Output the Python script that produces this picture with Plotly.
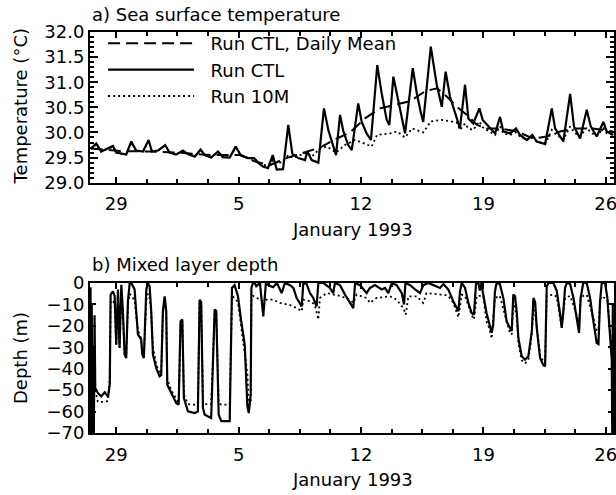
import pandas as pd
import plotly.graph_objects as go
from plotly.subplots import make_subplots

# time = days since 1993-01-01 00:00
sst_ctl_day = [-4.45, -4.14, -3.86, -3.19, -3.00, -2.43, -2.14, -1.86, -1.47, -1.15, -0.96, -0.61, -0.20,
               0.05, 0.43, 0.82, 1.10, 1.49, 1.83, 2.06, 2.43, 2.82, 3.10, 3.49, 3.83, 4.12, 4.53, 4.88,
               5.11, 5.39, 5.68, 5.95, 6.18, 6.54, 6.84, 7.07, 7.41, 7.80, 7.93, 8.18, 8.56, 8.88, 9.13,
               9.41, 9.57, 9.80, 9.99, 10.27, 10.47, 10.84, 11.04, 11.32, 11.57, 11.93, 12.18, 12.47,
               12.62, 12.85, 13.10, 13.33, 13.52, 13.96, 14.19, 14.43, 14.56, 14.99, 15.33, 15.62,
               15.84, 16.09, 16.47, 16.66, 16.95, 17.14, 17.42, 17.77, 17.96, 18.38, 18.67, 18.95,
               19.14, 19.52, 19.87, 20.09, 20.48, 20.80, 21.05, 21.53, 21.91, 22.10, 22.57, 22.96,
               23.18, 23.53, 23.91, 24.14, 24.48, 24.86, 25.05, 25.43]
sst_ctl = [29.68, 29.78, 29.62, 29.73, 29.60, 29.56, 29.82, 29.64, 29.62, 29.85, 29.62, 29.64, 29.75,
           29.60, 29.56, 29.64, 29.57, 29.52, 29.66, 29.55, 29.50, 29.62, 29.51, 29.50, 29.72, 29.55,
           29.49, 29.49, 29.40, 29.32, 29.29, 29.55, 29.26, 29.27, 30.15, 29.58, 29.49, 29.45, 29.62,
           29.45, 29.40, 30.48, 30.05, 29.72, 29.55, 30.35, 30.02, 29.75, 29.65, 30.58, 30.21, 29.98,
           29.85, 31.34, 30.78, 30.25, 30.15, 31.11, 30.68, 30.25, 29.98, 31.28, 30.78, 30.38, 30.21,
           31.71, 30.95, 30.51, 31.21, 30.71, 30.31, 30.08, 30.95, 30.28, 30.18, 30.48, 30.25, 30.08,
           29.98, 30.31, 30.02, 29.98, 30.08, 29.95, 29.85, 29.95, 29.82, 29.77, 30.48, 30.08, 29.82,
           30.77, 30.12, 29.88, 30.45, 30.12, 29.92, 30.21, 30.02, 29.95]

sst_mean_day = [-4.45, -2.79, -1.07, 0.64, 2.36, 4.08, 4.94, 5.79, 6.65, 7.51, 8.65, 9.62, 10.37, 11.23,
                12.09, 12.94, 13.80, 14.66, 15.35, 15.92, 16.49, 17.06, 17.63, 18.21, 18.95, 19.92,
                20.84, 21.64, 22.38, 23.33, 24.26, 25.41]
sst_mean = [29.68, 29.63, 29.62, 29.60, 29.55, 29.55, 29.42, 29.35, 29.48, 29.57, 29.70, 29.88, 30.00,
            30.28, 30.48, 30.55, 30.62, 30.82, 30.88, 30.71, 30.51, 30.35, 30.15, 30.08, 30.08, 30.02,
            29.88, 29.92, 30.02, 30.08, 30.08, 30.02]

sst_10m_day = [-4.45, -4.14, -3.86, -3.19, -3.00, -2.43, -2.14, -1.86, -1.47, -1.15, -0.96, -0.61, -0.20,
               0.05, 0.43, 0.82, 1.10, 1.49, 1.83, 2.06, 2.43, 2.82, 3.10, 3.49, 3.83, 4.12, 4.53, 4.88,
               5.11, 5.39, 5.68, 5.95, 6.18, 6.54, 6.84, 7.13, 7.51, 7.93, 8.18, 8.65, 9.04, 9.57, 10.08,
               10.66, 11.06, 11.61, 11.91, 12.66, 13.06, 13.52, 13.92, 14.56, 14.99, 15.62, 16.47, 16.66,
               16.95, 17.14, 17.42, 17.77, 17.96, 18.38, 18.67, 18.95, 19.14, 19.52, 19.87, 20.09, 20.48,
               20.80, 21.05, 21.53, 21.91, 22.10, 22.57, 22.96, 23.18, 23.53, 23.91, 24.14, 24.48, 24.86,
               25.05, 25.43]
sst_10m = [29.67, 29.76, 29.62, 29.72, 29.60, 29.56, 29.80, 29.64, 29.62, 29.83, 29.62, 29.64, 29.74,
           29.60, 29.56, 29.63, 29.57, 29.52, 29.65, 29.55, 29.50, 29.61, 29.51, 29.50, 29.70, 29.55,
           29.49, 29.48, 29.42, 29.36, 29.33, 29.45, 29.38, 29.42, 29.55, 29.49, 29.55, 29.60, 29.52,
           29.68, 29.72, 29.60, 29.75, 29.85, 29.80, 29.72, 29.95, 29.98, 30.02, 29.90, 30.08, 30.00,
           30.22, 30.25, 30.20, 30.05, 30.18, 30.08, 30.05, 30.22, 30.10, 30.02, 29.95, 30.12, 29.98,
           29.95, 30.00, 29.92, 29.85, 29.90, 29.82, 29.77, 30.05, 29.98, 29.85, 30.12, 30.00, 29.92,
           30.10, 30.00, 29.93, 30.08, 29.98, 29.95]

mld_ctl_day = [-4.50, -4.47, -4.44, -4.40, -4.36, -4.32, -4.28, -4.24, -4.20, -4.05, -3.86, -3.66, -3.47,
               -3.37, -3.32, -3.19, -3.09, -3.00, -2.90, -2.81, -2.71, -2.62, -2.52, -2.43, -2.33, -2.23,
               -2.14, -1.95, -1.86, -1.76, -1.57, -1.51, -1.42, -1.28, -1.19, -1.09, -1.00, -0.90, -0.71,
               -0.52, -0.43, -0.33, -0.23, -0.14, -0.08, 0.15, 0.43, 0.57, 0.68, 0.78, 0.87, 1.10, 1.49,
               1.67, 1.77, 1.86, 1.96, 2.06, 2.43, 2.63, 2.72, 2.86, 3.01, 3.49, 3.62, 3.77, 3.96, 4.15,
               4.35, 4.50, 4.58, 4.69, 4.73, 4.82, 4.92, 5.01, 5.22, 5.41, 5.56, 5.68, 5.97, 6.19, 6.37,
               6.46, 6.65, 6.94, 7.13, 7.32, 7.61, 7.70, 7.89, 8.08, 8.27, 8.46, 8.56, 8.84, 9.22, 9.41,
               9.51, 9.80, 10.08, 10.37, 10.56, 10.66, 10.94, 11.32, 11.51, 11.80, 12.18, 12.37, 12.56,
               12.76, 13.04, 13.33, 13.46, 13.54, 13.81, 14.09, 14.38, 14.56, 14.85, 15.14, 15.52,
               15.71, 15.99, 16.28, 16.57, 16.66, 16.76, 16.95, 17.14, 17.33, 17.46, 17.58, 17.71,
               17.80, 17.89, 17.99, 18.18, 18.33, 18.47, 18.56, 18.66, 18.75, 18.94, 19.14, 19.33,
               19.52, 19.62, 19.71, 19.81, 19.91, 20.00, 20.19, 20.38, 20.57, 20.77, 20.86, 20.96,
               21.05, 21.24, 21.43, 21.53, 21.62, 21.72, 22.00, 22.19, 22.38, 22.48, 22.57, 22.67,
               22.77, 22.96, 23.15, 23.33, 23.47, 23.56, 23.71, 23.91, 24.10, 24.29, 24.48, 24.58,
               24.67, 24.77, 24.96, 25.09, 25.24, 25.34, 25.37, 25.40, 25.43]
mld_ctl = [-75, -2, -75, -10, -75, -30, -72, -15, -49, -51.3, -52.9, -51, -53,
           -47.5, -5.4, -3.9, -6, -28.8, -3, -30.3, -0.8, -13, -33.4, -35, -8.6, 0,
           0, -3, -13, -24, -26.4, -33.4, -35, -3, 0, -1.5, -13, -33.4, -39.7,
           -43.5, -43, -13, -6.2, -13, -47.5, -51.3, -56, -56.8, -17.9, -17, -53.7, -59.9, -60.7,
           -60, -7.8, -9, -58.3, -61.5, -63, -12.4, -13, -61.5, -64.5, -64.5, -2.3, -1, -6, -17.9,
           -28.8, -57.5, -60.7, -52, -2.3, 0, 0, -1.5, 0, -15.6, 0, -1, -2, 0, -3,
           -4.7, 0, -1, -2.3, -7, -10.9, 0, -0.5, -4.7, -7, -10.9, 0, 0, -2.3, -4.7,
           0, -1, -5.4, -9.3, -11.7, 0, -1, -4.7, -2.3, -1, -3, -2.3, -4.7,
           0, -1, -4.7, -10, 0, -1, -3, -4.7, -1, 0, -1, -2.3,
           -0.5, -3, -8.6, -13.2, -4, 0, -2.3, -9.3, -14, -14.8, 0, 0,
           -3.5, 0, -5.4, -14, -18.7, -23.3, -19.5, -4, 0, -0.5, -7, -17.9,
           -21, -22.4, -5.4, -6.2, -14, -25.7, -34.2, -35.8, -34.2, -22.4, -7, -9,
           -21, -35, -38.4, -38.9, -1.6, 0, 0, -3.5, -14, -21, -13.2, -2.3,
           0, -0.5, -7, -15.6, -23.3, -7, 0, 0, -7, -17.9, -28, -28.5,
           -8.6, 0, 0, -7, -25.7, -36, -72, -10, -72]

mld_10m_day = [-4.20, -4.05, -3.66, -3.47, -3.37, -3.32, -3.19, -3.09, -3.00, -2.90, -2.81, -2.71, -2.62,
               -2.52, -2.43, -2.33, -2.23, -2.14, -1.95, -1.86, -1.76, -1.57, -1.51, -1.42, -1.28, -1.19,
               -1.09, -1.00, -0.90, -0.71, -0.52, -0.43, -0.33, -0.23, -0.14, -0.08, 0.15, 0.43, 0.57,
               0.68, 0.78, 0.87, 1.10, 1.49, 1.67, 1.77, 1.86, 1.96, 2.06, 2.43, 2.63, 2.72, 2.86, 3.01,
               3.49, 3.62, 3.77, 3.96, 4.15, 4.35, 4.50, 4.58, 4.69, 4.73, 4.82, 5.01, 5.22, 5.41, 5.68,
               5.97, 6.37, 6.94, 7.32, 7.61, 7.70, 8.08, 8.35, 8.56, 8.65, 9.04, 9.41, 9.80, 10.37,
               10.56, 10.75, 11.32, 11.51, 11.89, 12.66, 13.04, 13.42, 13.56, 13.71, 14.19, 14.56,
               14.75, 15.52, 15.71, 15.99, 16.28, 16.57, 16.76, 16.95, 17.33, 17.46, 17.62, 17.99,
               18.18, 18.33, 18.47, 18.66, 18.94, 19.33, 19.52, 19.62, 19.71, 19.91, 20.00, 20.19,
               20.38, 20.57, 20.77, 20.86, 21.05, 21.24, 21.43, 21.53, 21.62, 22.00, 22.19, 22.38,
               22.48, 22.57, 22.67, 22.96, 23.33, 23.47, 23.56, 23.71, 23.91, 24.29, 24.48, 24.58,
               24.67, 24.77, 25.09, 25.24, 25.34]
mld_10m = [-50, -55.4, -55.5, -55, -45, -9, -8, -10, -29, -8, -30, -6, -14,
           -33, -35, -10, -5, -6, -8, -15, -22, -26, -33, -35, -8, -5,
           -7, -14, -30, -38, -42, -42, -14, -9, -14, -45, -50, -54, -56,
           -18, -18, -52, -56.5, -56.8, -56.5, -9, -10, -55, -56.5, -56.5, -14, -14, -56, -56.8,
           -56.8, -6, -7, -9, -20, -32, -42, -58, -55, -8, -6, -7, -7.5, -8.5, -7.5,
           -7.8, -9.3, -10.3, -11.7, -13.2, -7.8, -8.5, -10, -17.1, -7, -4.7, -5.4, -6, -7.8,
           -9.3, -5.4, -7, -9.3, -7, -6.2, -7.8, -11.7, -14.8, -6.2, -6.2, -9.3,
           -4.7, -5.4, -5.4, -6, -9.3, -16, -5.5, -6, -15, -17, -6, -6,
           -18, -21, -26, -7, -6, -18, -23.3, -24, -8, -16, -28, -36,
           -37.5, -36, -24, -9, -20, -34, -36.5, -37, -6, -5.4, -6.5, -16,
           -20.5, -14, -7, -6, -14, -18, -8, -6, -5.5, -16, -22, -22,
           -8, -6, -8, -22, -30]

x_range = ["1992-12-27 12:00", "1993-01-26 11:15"]
sst_ticks = [29.0, 29.5, 30.0, 30.5, 31.0, 31.5, 32.0]
mld_ticks = [0, -10, -20, -30, -40, -50, -60, -70]
legend_names = ["Run CTL, Daily Mean", "Run CTL", "Run 10M"]


def to_time(days):
    return pd.Timestamp("1993-01-01") + pd.to_timedelta(days, unit="D")


FONT = "DejaVu Sans"
FS = 18
PAD = "\u00a0\u00a0"

fig = make_subplots(rows=2, cols=1, vertical_spacing=0.25)

fig.add_trace(go.Scatter(x=to_time(sst_mean_day), y=sst_mean, mode="lines", name=PAD + legend_names[0],
                         line=dict(color="black", width=2, dash="12px,6px")), row=1, col=1)
fig.add_trace(go.Scatter(x=to_time(sst_ctl_day), y=sst_ctl, mode="lines", name=PAD + legend_names[1],
                         line=dict(color="black", width=2.2)), row=1, col=1)
fig.add_trace(go.Scatter(x=to_time(sst_10m_day), y=sst_10m, mode="lines", name=PAD + legend_names[2],
                         line=dict(color="black", width=1.8, dash="2px,3px")), row=1, col=1)

fig.add_trace(go.Scatter(x=to_time(mld_10m_day), y=mld_10m, mode="lines", showlegend=False,
                         line=dict(color="black", width=1.8, dash="2px,3px")), row=2, col=1)
fig.add_trace(go.Scatter(x=to_time(mld_ctl_day), y=mld_ctl, mode="lines", showlegend=False,
                         line=dict(color="black", width=2.2)), row=2, col=1)

xaxis_common = dict(
    type="date", range=x_range, tick0="1992-12-29", dtick=7 * 86400000, tickformat="%-d",
    ticks="inside", ticklen=6, tickwidth=1.5, tickcolor="black", automargin=False,
    ticklabeloverflow="allow",
    minor=dict(dtick=1.75 * 86400000, tick0="1992-12-29", ticks="inside", ticklen=4, tickwidth=1.5,
               tickcolor="black", showgrid=False),
    showline=True, linecolor="black", linewidth=2, mirror="ticks", showgrid=False, zeroline=False,
    tickfont=dict(family=FONT, size=FS, color="black"), ticklabelstandoff=4,
)
fig.update_xaxes(**xaxis_common)
fig.update_xaxes(domain=[0, 1])

fig.update_yaxes(row=1, col=1, domain=[0.6242, 1.0], range=[29.0, 32.0], tickvals=sst_ticks,
                 tickformat=".1f", minor=dict(dtick=0.1, tick0=29.0, ticks="inside", ticklen=4,
                                              tickwidth=1.5, tickcolor="black", showgrid=False),
                 ticklen=8)
fig.update_yaxes(row=2, col=1, domain=[0.0, 0.3741], range=[-70, 0], tickvals=mld_ticks, ticklen=6)
fig.update_yaxes(ticks="inside", tickwidth=1.5, tickcolor="black", showline=True, linecolor="black",
                 linewidth=2, mirror="ticks", showgrid=False, zeroline=False, automargin=False,
                 tickfont=dict(family=FONT, size=FS, color="black"))

ann_font = dict(family=FONT, size=FS, color="black")
annotations = [
    dict(text="a) Sea surface temperature", x=0, y=1.0424, xref="paper", yref="paper",
         xanchor="left", yanchor="middle", showarrow=False, font=ann_font),
    dict(text="b) Mixed layer depth", x=0, y=0.419, xref="paper", yref="paper",
         xanchor="left", yanchor="middle", showarrow=False, font=ann_font),
    dict(text="January 1993", x=0.5, y=0.5087, xref="paper", yref="paper",
         xanchor="center", yanchor="middle", showarrow=False, font=ann_font),
    dict(text="January 1993", x=0.5, y=-0.1172, xref="paper", yref="paper",
         xanchor="center", yanchor="middle", showarrow=False, font=ann_font),
    dict(text="Temperature (°C)", x=0, y=0.8145, xref="paper", yref="paper", xshift=-70,
         xanchor="center", yanchor="middle", textangle=-90, showarrow=False, font=ann_font),
    dict(text="Depth (m)", x=0, y=0.187, xref="paper", yref="paper", xshift=-70,
         xanchor="center", yanchor="middle", textangle=-90, showarrow=False, font=ann_font),
]

fig.update_layout(
    width=616, height=495, margin=dict(l=90, r=2, t=32, b=62, autoexpand=False),
    paper_bgcolor="white", plot_bgcolor="white",
    annotations=annotations,
    showlegend=True,
    legend=dict(x=0.025, y=1.0175, xanchor="left", yanchor="top", bgcolor="rgba(0,0,0,0)",
                borderwidth=0, itemwidth=86, tracegroupgap=0,
                font=dict(family=FONT, size=FS, color="black")),
)

fig.write_html("out.html", config={"displayModeBar": False},
               post_script="document.body.style.margin='0';document.body.style.overflow='hidden';")
